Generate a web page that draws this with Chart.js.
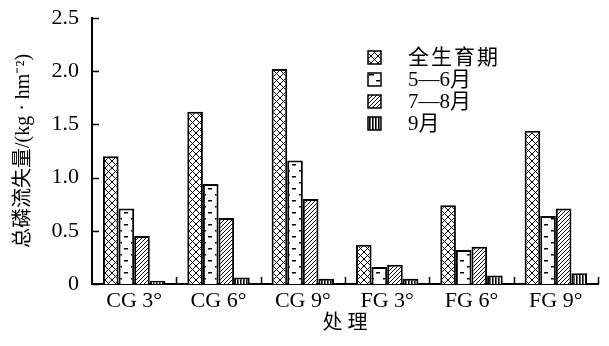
<!DOCTYPE html>
<html>
<head>
<meta charset="utf-8">
<script src="https://cdn.jsdelivr.net/npm/chart.js@4.4.0/dist/chart.umd.min.js"></script>
<style>
  html, body { margin: 0; padding: 0; background: #fff; }
  #wrap { width: 609px; height: 346px; }
</style>
</head>
<body>
<div id="wrap"><canvas id="chart" width="609" height="346"></canvas></div>
<script>
const categories = ['CG 3°', 'CG 6°', 'CG 9°', 'FG 3°', 'FG 6°', 'FG 9°'];
const seriesNames = ['全生育期', '5—6月', '7—8月', '9月'];
const wholePeriod = [1.20, 1.62, 2.02, 0.37, 0.74, 1.44];
const mayJune = [0.71, 0.94, 1.16, 0.16, 0.32, 0.64];
const julyAug = [0.45, 0.62, 0.80, 0.18, 0.35, 0.71];
const september = [0.03, 0.06, 0.05, 0.05, 0.08, 0.10];
const yTicks = [0, 0.5, 1.0, 1.5, 2.0, 2.5];

const FONT = "'Liberation Serif', 'Noto Sans CJK SC', serif";

// hatch fills
function makePattern(w, h, draw) {
    const c = document.createElement('canvas');
    c.width = w; c.height = h;
    const g = c.getContext('2d');
    g.fillStyle = '#fff';
    g.fillRect(0, 0, w, h);
    g.strokeStyle = '#000';
    g.fillStyle = '#000';
    draw(g, w, h);
    return g.createPattern(c, 'repeat');
}
const ctxMain = document.getElementById('chart').getContext('2d');

const crossFill = makePattern(7, 7, (g, w, h) => {
    g.lineWidth = 1;
    g.beginPath();
    g.moveTo(0, 0); g.lineTo(w, h);
    g.moveTo(0, h); g.lineTo(w, 0);
    g.stroke();
});
const dashFill = makePattern(14, 12, (g) => {
    g.fillRect(5, 2, 5, 1.5);
    g.fillRect(0, 8, 2, 1.5);
    g.fillRect(12, 8, 2, 1.5);
});
const diagFill = makePattern(4, 4, (g, w, h) => {
    g.lineWidth = 1;
    g.beginPath();
    g.moveTo(-1, h + 1); g.lineTo(w + 1, -1);
    g.moveTo(-1, 1); g.lineTo(1, -1);
    g.moveTo(w - 1, h + 1); g.lineTo(w + 1, h - 1);
    g.stroke();
});
const vertFill = makePattern(3, 3, (g) => {
    g.fillRect(0, 0, 1.6, 3);
});

const fills = [crossFill, dashFill, diagFill, vertFill];
const values = [wholePeriod, mayJune, julyAug, september];

// inward ticks on both axes
const innerTicks = {
    id: 'innerTicks',
    afterDraw(chart) {
        const ctx = chart.ctx;
        const area = chart.chartArea;
        const x = chart.scales.x, y = chart.scales.y;
        ctx.save();
        ctx.strokeStyle = '#000';
        ctx.lineWidth = 1.5;
        ctx.beginPath();
        yTicks.forEach(v => {
            const py = Math.round(y.getPixelForValue(v)) + 0.5;
            ctx.moveTo(area.left, py);
            ctx.lineTo(area.left + 7, py);
        });
        const step = x.width / categories.length;
        for (let i = 1; i <= categories.length; i++) {
            const px = Math.round(x.left + step * i) + 0.5;
            ctx.moveTo(px, area.bottom);
            ctx.lineTo(px, area.bottom - 7);
        }
        ctx.stroke();
        ctx.restore();
    }
};

// legend inside the plot
const innerLegend = {
    id: 'innerLegend',
    afterDraw(chart) {
        const ctx = chart.ctx;
        ctx.save();
        chart.data.datasets.forEach((ds, i) => {
            const top = 51 + i * 22;
            ctx.fillStyle = ds.backgroundColor;
            ctx.fillRect(368, top, 13, 13);
            ctx.strokeStyle = '#000';
            ctx.lineWidth = 1.5;
            ctx.strokeRect(368, top, 13, 13);
            ctx.fillStyle = '#000';
            ctx.font = '21px ' + FONT;
            ctx.textBaseline = 'middle';
            ctx.letterSpacing = i === 0 ? '2px' : '0px';
            ctx.fillText(ds.label, 408, top + 7);
        });
        ctx.restore();
    }
};

new Chart(ctxMain, {
    type: 'bar',
    data: {
        labels: categories,
        datasets: seriesNames.map((name, i) => ({
            label: name,
            data: values[i],
            backgroundColor: fills[i],
            borderColor: '#000',
            borderWidth: 2,
            borderSkipped: 'bottom',
            categoryPercentage: 0.74,
            barPercentage: 1.0
        }))
    },
    options: {
        responsive: false,
        animation: false,
        layout: { padding: { top: 18, right: 11, left: 0, bottom: 0 } },
        plugins: {
            legend: { display: false },
            tooltip: { enabled: false }
        },
        scales: {
            x: {
                grid: { display: false, drawTicks: false },
                border: { color: '#000', width: 2 },
                ticks: {
                    color: '#000',
                    font: { family: FONT, size: 22 },
                    padding: 4
                },
                title: {
                    display: true,
                    text: '处 理',
                    color: '#000',
                    font: { family: FONT, size: 20 },
                    padding: { top: 0, bottom: 10 }
                },
                afterFit(scale) {
                    scale.height = 62;
                    scale.paddingLeft = 0;
                    scale.paddingRight = 0;
                }
            },
            y: {
                min: 0,
                max: 2.5,
                afterBuildTicks(scale) { scale.ticks = yTicks.map(v => ({ value: v })); },
                grid: { display: false, drawTicks: false },
                border: { color: '#000', width: 2 },
                ticks: {
                    color: '#000',
                    font: { family: FONT, size: 22 },
                    padding: 13,
                    callback: v => v === 0 ? '0' : v.toFixed(1)
                },
                title: {
                    display: true,
                    text: '总磷流失量/(kg · hm⁻²)',
                    color: '#000',
                    font: { family: FONT, size: 20 },
                    padding: { top: 12, bottom: 0 }
                },
                afterFit(scale) {
                    scale.width = 92;
                    scale.paddingTop = 0;
                    scale.paddingBottom = 0;
                }
            }
        }
    },
    plugins: [innerTicks, innerLegend]
});
</script>
</body>
</html>
